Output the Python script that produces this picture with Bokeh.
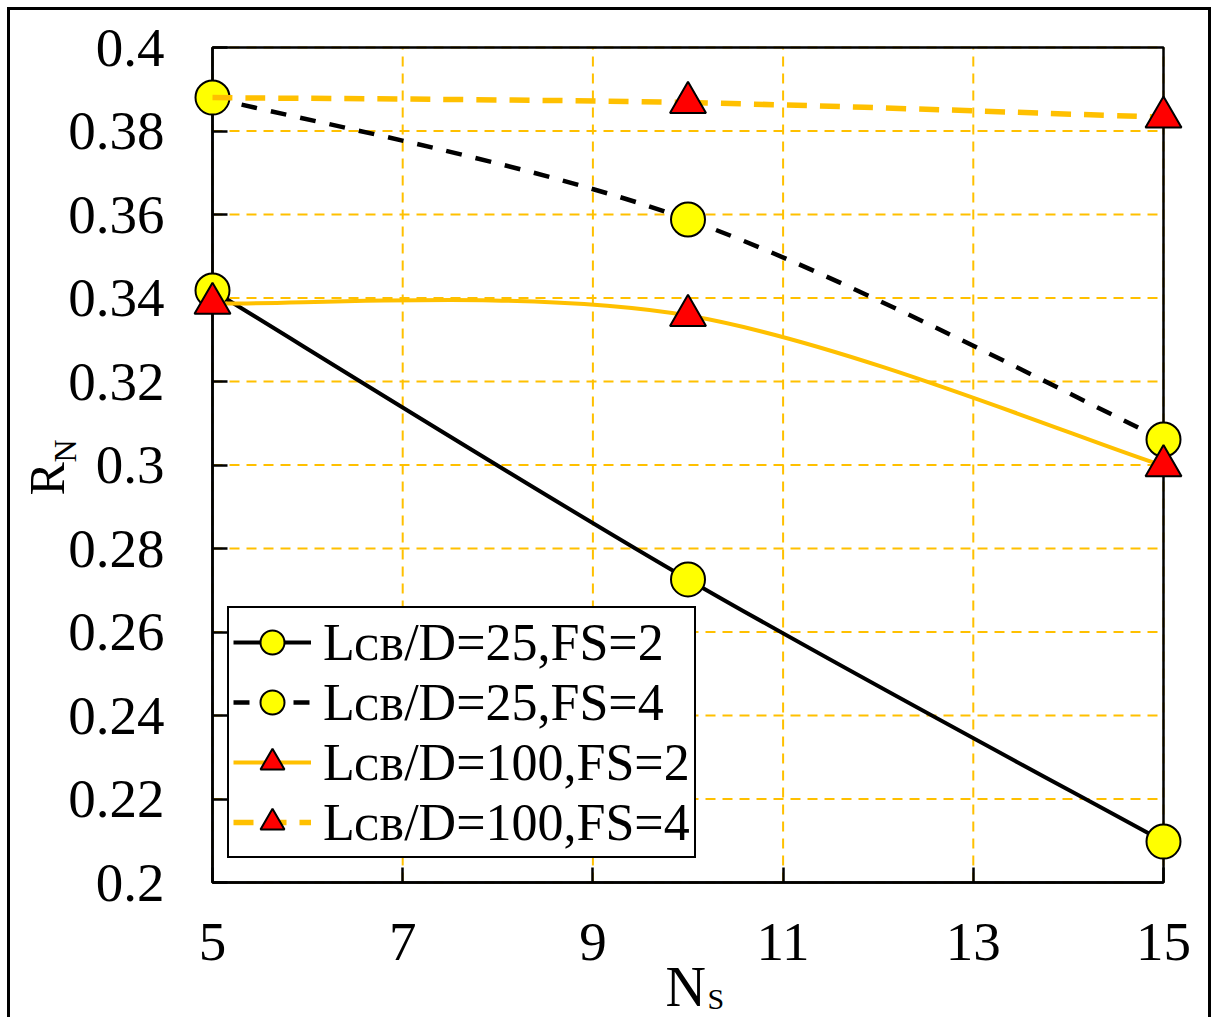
import math
from bokeh.plotting import figure
from bokeh.models import Range1d, FixedTicker, Legend, LegendItem, ColumnDataSource, CDSView, IndexFilter
from bokeh.core.properties import value
from bokeh.embed import file_html
from bokeh.resources import INLINE

# ---------------- data ----------------
ns = [5, 10, 15]
rn_25_fs2 = [0.3418, 0.2726, 0.2098]
rn_25_fs4 = [0.3880, 0.3588, 0.3061]
rn_100_fs2 = [0.3387, 0.3358, 0.2998]
rn_100_fs4 = [0.3880, 0.3868, 0.3833]
# indices of points that carry a marker (the first point of the last series has none)
marked_25_fs2 = [0, 1, 2]
marked_25_fs4 = [0, 1, 2]
marked_100_fs2 = [0, 1, 2]
marked_100_fs4 = [1, 2]

series_labels = [
    "L\u1d04\u0299/D=25,FS=2",
    "L\u1d04\u0299/D=25,FS=4",
    "L\u1d04\u0299/D=100,FS=2",
    "L\u1d04\u0299/D=100,FS=4",
]
x_ticks = [5, 7, 9, 11, 13, 15]
x_tick_labels = ["5", "7", "9", "11", "13", "15"]
y_ticks = [0.2, 0.22, 0.24, 0.26, 0.28, 0.3, 0.32, 0.34, 0.36, 0.38, 0.4]
y_tick_labels = ["0.2", "0.22", "0.24", "0.26", "0.28", "0.3", "0.32", "0.34", "0.36", "0.38", "0.4"]
x_title, x_title_sub = "N", "S"
y_title, y_title_sub = "R", "N"

FONT = "Liberation Serif"
ORANGE = "#FFC000"
W, H = 1204, 1010          # canvas size (page offset 10,10 inside the 3px frame)
# pixel geometry of the plotting box inside the canvas
BOX_L, BOX_R, BOX_T, BOX_B = 202, 1153, 37, 872

xmin, xmax = x_ticks[0], x_ticks[-1]
ymin, ymax = y_ticks[0], y_ticks[-1]
kx = (xmax - xmin) / (BOX_R - BOX_L)
ky = (ymax - ymin) / (BOX_B - BOX_T)
x_range = Range1d(xmin - BOX_L * kx, xmax + (W - BOX_R) * kx)
y_range = Range1d(ymin - (H - BOX_B) * ky, ymax + BOX_T * ky)


def smooth_segments(xs, ys):
    """Bezier control points of a smoothed (Catmull-Rom) line through the data."""
    n = len(xs)
    out = dict(x0=[], y0=[], x1=[], y1=[], cx0=[], cy0=[], cx1=[], cy1=[])
    for i in range(n - 1):
        a, b = max(i - 1, 0), min(i + 2, n - 1)
        out["x0"].append(xs[i]); out["y0"].append(ys[i])
        out["x1"].append(xs[i + 1]); out["y1"].append(ys[i + 1])
        out["cx0"].append(xs[i] + (xs[i + 1] - xs[a]) / 6)
        out["cy0"].append(ys[i] + (ys[i + 1] - ys[a]) / 6)
        out["cx1"].append(xs[i + 1] - (xs[b] - xs[i]) / 6)
        out["cy1"].append(ys[i + 1] - (ys[b] - ys[i]) / 6)
    return out


p = figure(width=W, height=H, x_range=x_range, y_range=y_range,
           output_backend="svg", toolbar_location=None, min_border=0)
p.styles = {"border-top": "3px solid black", "border-left": "3px solid black",
            "border-right": "3px solid black", "border-bottom": "none",
            "box-sizing": "border-box", "margin-left": "7px", "margin-top": "7px"}
p.background_fill_color = "white"
p.border_fill_color = "white"
p.outline_line_color = None
p.xgrid.visible = False
p.ygrid.visible = False

# dashed orange grid inside the box
p.segment(x0=x_ticks, y0=[ymin] * len(x_ticks), x1=x_ticks, y1=[ymax] * len(x_ticks),
          line_color=ORANGE, line_width=2, line_dash="10 7", level="underlay")
p.segment(x0=[xmin] * len(y_ticks), y0=y_ticks, x1=[xmax] * len(y_ticks), y1=y_ticks,
          line_color=ORANGE, line_width=2, line_dash="10 7", level="underlay")
# box (top / right edges)
p.quad(left=[xmin], right=[xmax], bottom=[ymin], top=[ymax], fill_color=None,
       line_color="black", line_width=2.5, level="underlay")

# axes pinned to the box edges
p.xaxis.fixed_location = ymin
p.yaxis.fixed_location = xmin
p.xaxis.bounds = (xmin, xmax)
p.yaxis.bounds = (ymin, ymax)
for ax in (p.xaxis[0], p.yaxis[0]):
    ax.level = "underlay"
    ax.axis_line_width = 2.5
    ax.axis_line_color = "black"
    ax.major_tick_in = 15
    ax.major_tick_out = 0
    ax.major_tick_line_width = 2.5
    ax.minor_tick_line_color = None
    ax.major_label_text_font = FONT
    ax.major_label_text_font_size = "55px"
    ax.major_label_text_color = "black"
    ax.axis_label = None
p.xaxis.ticker = FixedTicker(ticks=x_ticks)
p.xaxis.major_label_overrides = {t: l for t, l in zip(x_ticks, x_tick_labels)}
p.xaxis.major_label_standoff = 41
p.yaxis.ticker = FixedTicker(ticks=y_ticks)
p.yaxis.major_label_overrides = {t: l for t, l in zip(y_ticks, y_tick_labels)}
p.yaxis.major_label_standoff = 48

styles = [
    dict(ys=rn_25_fs2, marked=marked_25_fs2, color="black", width=4, dash="solid",
         marker="circle", fill="#FFFF00", size=34),
    dict(ys=rn_25_fs4, marked=marked_25_fs4, color="black", width=4.5, dash="16 14",
         marker="circle", fill="#FFFF00", size=34),
    dict(ys=rn_100_fs2, marked=marked_100_fs2, color=ORANGE, width=4, dash="solid",
         marker="triangle", fill="#FF0000", size=36),
    dict(ys=rn_100_fs4, marked=marked_100_fs4, color=ORANGE, width=5.5, dash="20 13",
         marker="triangle", fill="#FF0000", size=36),
]

items = []
for lab, s in zip(series_labels, styles):
    seg = smooth_segments(ns, s["ys"])
    p.bezier(x0=seg["x0"], y0=seg["y0"], x1=seg["x1"], y1=seg["y1"],
             cx0=seg["cx0"], cy0=seg["cy0"], cx1=seg["cx1"], cy1=seg["cy1"],
             line_color=s["color"], line_width=s["width"], line_dash=s["dash"])
    leg_line = p.line(ns, s["ys"], line_color=s["color"], line_width=s["width"],
                      line_dash=s["dash"], visible=False)
    src = ColumnDataSource(dict(x=ns, y=s["ys"]))
    sc = p.scatter("x", "y", source=src, view=CDSView(filter=IndexFilter(s["marked"])),
                   marker=s["marker"], size=s["size"], fill_color=s["fill"],
                   line_color="black", line_width=2)
    items.append(LegendItem(label=lab, renderers=[leg_line, sc]))

legend = Legend(items=items, location=(BOX_L + 15, H - BOX_B + 24))
legend.label_text_font = FONT
legend.label_text_font_size = "52px"
legend.label_text_color = "black"
legend.glyph_width = 78
legend.glyph_height = 60
legend.label_height = 50
legend.spacing = 0
legend.padding = 4
legend.margin = 0
legend.label_standoff = 12
legend.border_line_color = "black"
legend.border_line_alpha = 1
legend.border_line_width = 2
legend.background_fill_color = "white"
legend.background_fill_alpha = 1
p.add_layout(legend)

# axis titles with subscripts: text anchored at the box's lower-left corner,
# shifted by pixel offsets into the margins
corner_x, corner_y = [xmin], [ymin]
title_specs = [
    (y_title, -166, -387, "50px", math.pi / 2),
    (y_title_sub, -148, -420, "32px", math.pi / 2),
    (x_title, 453, 104, "56px", 0.0),
    (x_title_sub, 495, 116, "30px", 0.0),
]
for txt, dx, dy, fs, ang in title_specs:
    p.text(x=corner_x, y=corner_y, text=[txt], x_offset=dx, y_offset=dy, angle=ang,
           text_font=value(FONT), text_font_size=fs, text_align="left",
           text_baseline="alphabetic", text_color="black")

open("out.html", "w").write(file_html(p, INLINE))
